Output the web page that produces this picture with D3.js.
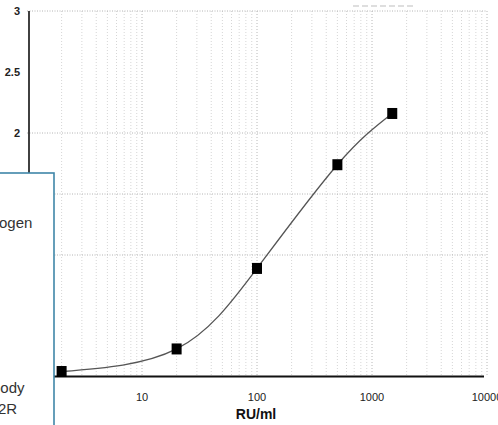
<!DOCTYPE html>
<html>
<head>
<meta charset="utf-8">
<script src="https://cdn.jsdelivr.net/npm/d3@7"></script>
<style>
  html, body { margin: 0; padding: 0; background: #fff; }
  svg { display: block; }
</style>
</head>
<body>
<svg id="chart" width="498" height="425"></svg>
<script>
// ---- data ----
const concentrations = [2, 20, 100, 500, 1500];        // RU/ml
const odValues = [0.045, 0.23, 0.89, 1.74, 2.16];      // OD
const xTickValues = [10, 100, 1000, 10000];
const xTickLabels = ["10", "100", "1000", "10000"];
const yTickValues = [2, 2.5, 3];
const yTickLabels = ["2", "2.5", "3"];
const yGridValues = [1, 1.5, 2, 3];
const xAxisTitle = "RU/ml";
const boxTexts = ["ogen", "body", "2R"];

// ---- layout ----
const svg = d3.select("#chart");
const x = d3.scaleLog().domain([1, 10000]).range([27, 487]);
const y = d3.scaleLinear().domain([0, 3]).range([377, 11]);

// minor vertical grid (log)
const minor = [];
for (let d = 1; d < 10000; d *= 10) {
  for (let k = 2; k <= 10; k++) minor.push(d * k);
}
svg.append("g").selectAll("line").data(minor).join("line")
  .attr("x1", d => x(d)).attr("x2", d => x(d))
  .attr("y1", y(3)).attr("y2", y(0))
  .attr("stroke", d => xTickValues.includes(d) ? "#b8b8b8" : "#d6d6d6")
  .attr("stroke-width", 1)
  .attr("stroke-dasharray", "1,2");

// horizontal grid
svg.append("g").selectAll("line").data(yGridValues).join("line")
  .attr("x1", x(1)).attr("x2", x(10000))
  .attr("y1", d => y(d)).attr("y2", d => y(d))
  .attr("stroke", "#b4b4b4")
  .attr("stroke-width", 1)
  .attr("stroke-dasharray", "1,1.5");

// faint scanned remnant at top
svg.append("line")
  .attr("x1", 353).attr("x2", 413).attr("y1", 6).attr("y2", 6)
  .attr("stroke", "#d4d4d4").attr("stroke-width", 1.5)
  .attr("stroke-dasharray", "6,3");

// axes lines
svg.append("line")
  .attr("x1", 29).attr("x2", 29).attr("y1", y(3)).attr("y2", y(0))
  .attr("stroke", "#111").attr("stroke-width", 1.6);
svg.append("line")
  .attr("x1", 29).attr("x2", 484).attr("y1", y(0) - 0.5).attr("y2", y(0) - 0.5)
  .attr("stroke", "#111").attr("stroke-width", 2);

// x tick labels
svg.append("g").selectAll("text").data(xTickValues).join("text")
  .attr("x", d => x(d)).attr("y", 401)
  .attr("text-anchor", "middle")
  .attr("font-family", "Liberation Sans, Arial, sans-serif")
  .attr("font-size", 11)
  .attr("fill", "#222")
  .text((d, i) => xTickLabels[i]);

// y tick labels
svg.append("g").selectAll("text").data(yTickValues).join("text")
  .attr("x", 20).attr("y", d => y(d) + 4)
  .attr("text-anchor", "end")
  .attr("font-family", "Liberation Sans, Arial, sans-serif")
  .attr("font-size", 11)
  .attr("font-weight", "bold")
  .attr("fill", "#222")
  .text((d, i) => yTickLabels[i]);

// axis title
svg.append("text")
  .attr("x", 256).attr("y", 419)
  .attr("text-anchor", "middle")
  .attr("font-family", "Liberation Sans, Arial, sans-serif")
  .attr("font-size", 14)
  .attr("font-weight", "bold")
  .attr("fill", "#111")
  .text(xAxisTitle);

// fitted curve
const pts = concentrations.map((c, i) => [x(c), y(odValues[i])]);
svg.append("path")
  .attr("d", d3.line().curve(d3.curveNatural)(pts))
  .attr("fill", "none")
  .attr("stroke", "#555")
  .attr("stroke-width", 1.3);

// markers
svg.append("g").selectAll("rect").data(concentrations).join("rect")
  .attr("x", d => x(d) - 5)
  .attr("y", (d, i) => y(odValues[i]) - 5.5)
  .attr("width", 10).attr("height", 11)
  .attr("fill", "#000");

// overlay box
svg.append("rect")
  .attr("x", -3).attr("y", 173)
  .attr("width", 57).attr("height", 260)
  .attr("fill", "#fff")
  .attr("stroke", "#3f86a8")
  .attr("stroke-width", 1.6);

const boxY = [228, 393, 414];
const boxX = [-1, -8, -2];
svg.append("g").selectAll("text").data(boxTexts).join("text")
  .attr("x", (d, i) => boxX[i]).attr("y", (d, i) => boxY[i])
  .attr("font-family", "Liberation Sans, Arial, sans-serif")
  .attr("font-size", 15)
  .attr("fill", "#333")
  .text(d => d);
</script>
</body>
</html>
